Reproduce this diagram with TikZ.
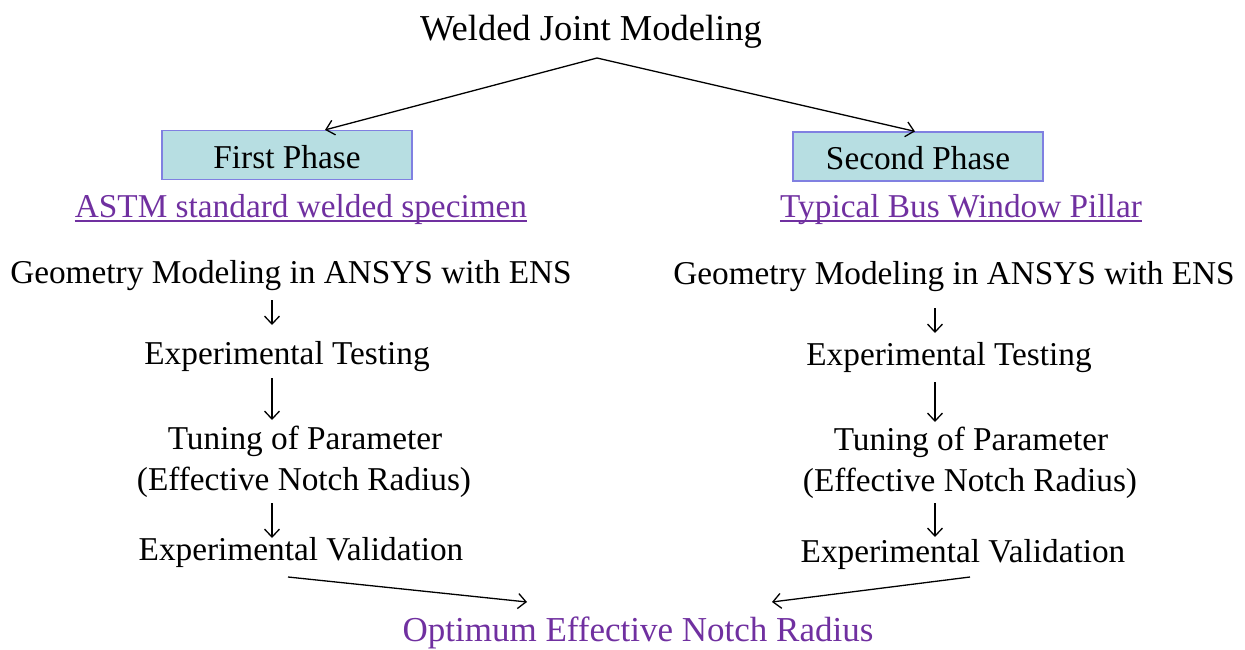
\documentclass[tikz,border=0pt]{standalone}
\usepackage{fontspec}
\setmainfont{Liberation Serif}
\usetikzlibrary{arrows.meta,calc}
\definecolor{ppurple}{RGB}{112,48,160}
\definecolor{boxfill}{RGB}{183,222,226}
\definecolor{boxline}{RGB}{128,128,225}
\tikzset{
  txt/.style={inner sep=0pt, anchor=base, font=\fontsize{33.3}{40}\selectfont},
  ptxt/.style={txt, text=ppurple},
  phasebox/.style={draw=boxline, line width=1.2pt, fill=boxfill, minimum width=250pt, minimum height=49pt, inner sep=0pt, text height=30pt, text depth=4pt, font=\fontsize{33.3}{40}\selectfont},
  arr/.style={line width=1.3pt, -{Straight Barb[length=8pt,width=15pt,line width=1.3pt]}},
  uline/.style={ppurple, line width=2pt}
}
\begin{document}
\begin{tikzpicture}[x=1pt,y=-1pt]
\useasboundingbox (0,0) rectangle (1245,650);
% title
\node[txt, font=\fontsize{36.5}{42}\selectfont] (title) at (591,41) {Welded Joint Modeling};
% phase boxes
\node[phasebox] (box1) at (287,155) {First Phase};
\node[phasebox] (box2) at (918,156.5) {Second Phase};
\draw[arr] ($(title.base)+(6,17)$) -- ($(box1.north)+(38,0)$);
\draw[arr] ($(title.base)+(6,17)$) -- ($(box2.north)+(-3,0)$);
% subtitles
\node[ptxt] (astm) at (301,217) {ASTM standard welded specimen};
\node[ptxt] (bus) at (961,217) {Typical Bus Window Pillar};
\draw[uline] ($(astm.base west)+(0,4)$) -- ($(astm.base east)+(0,4)$);
\draw[uline] ($(bus.base west)+(0,4)$) -- ($(bus.base east)+(0,4)$);
% left column
\coordinate (colL) at (272,0);
\node[txt] (geoL) at (291,283) {Geometry Modeling in ANSYS with ENS};
\node[txt] (expL) at (287,364) {Experimental Testing};
\node[txt] (tunL) at (305,449) {Tuning of Parameter};
\node[txt] (effL) at (304,490) {(Effective Notch Radius)};
\node[txt] (valL) at (301,560) {Experimental Validation};
\draw[arr] ($(geoL.base -| colL)+(0,17)$) -- ($(expL.base -| colL)+(0,-39)$);
\draw[arr] ($(expL.base -| colL)+(0,14)$) -- ($(tunL.base -| colL)+(0,-29)$);
\draw[arr] ($(effL.base -| colL)+(0,13)$) -- ($(valL.base -| colL)+(0,-22)$);
% right column
\coordinate (colR) at (935,0);
\node[txt] (geoR) at (954,284) {Geometry Modeling in ANSYS with ENS};
\node[txt] (expR) at (949,365) {Experimental Testing};
\node[txt] (tunR) at (971,450) {Tuning of Parameter};
\node[txt] (effR) at (970,491) {(Effective Notch Radius)};
\node[txt] (valR) at (963,562) {Experimental Validation};
\draw[arr] ($(geoR.base -| colR)+(0,24)$) -- ($(expR.base -| colR)+(0,-32)$);
\draw[arr] ($(expR.base -| colR)+(0,17)$) -- ($(tunR.base -| colR)+(0,-28)$);
\draw[arr] ($(effR.base -| colR)+(0,12)$) -- ($(valR.base -| colR)+(0,-25)$);
% result
\node[ptxt, font=\fontsize{35}{42}\selectfont] (opt) at (638,641) {Optimum Effective Notch Radius};
\draw[arr] ($(valL.base)+(-13,17)$) -- ($(opt.base)+(-111,-39)$);
\draw[arr] ($(valR.base)+(7,15)$) -- ($(opt.base)+(134,-39)$);
\end{tikzpicture}
\end{document}
